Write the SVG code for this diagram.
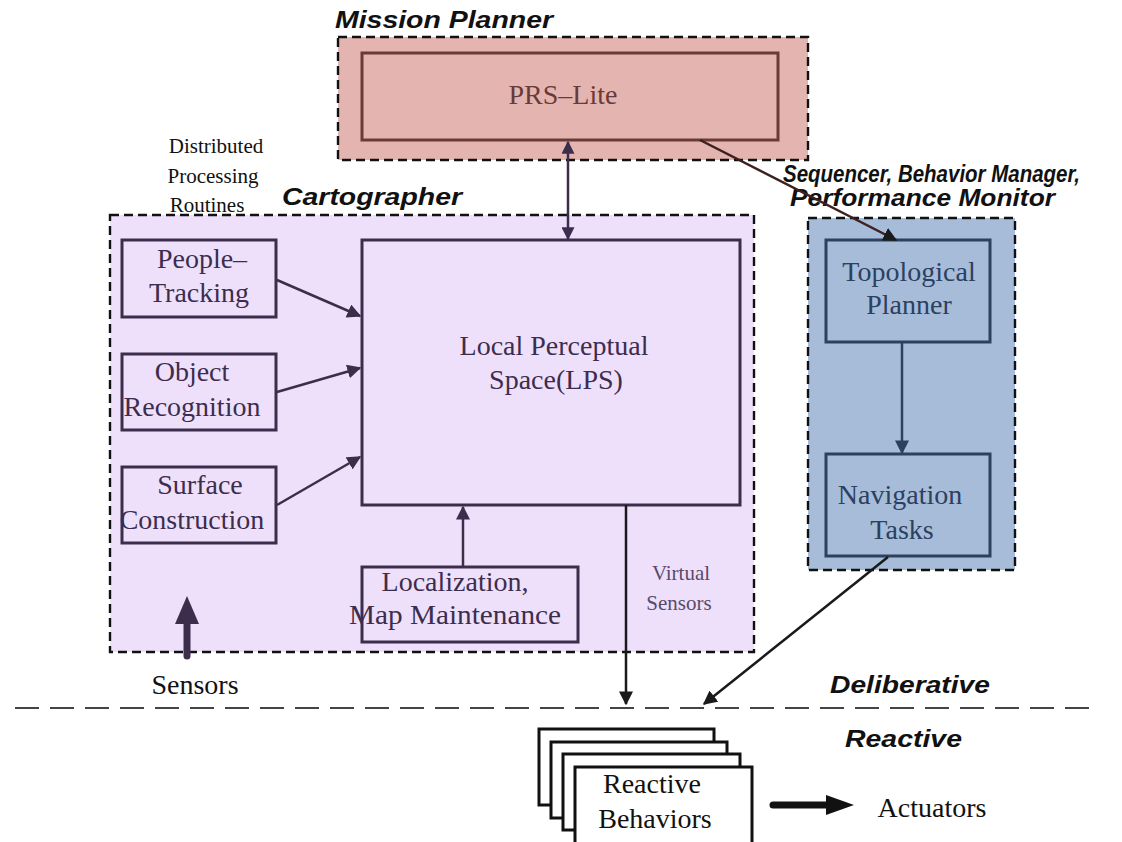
<svg xmlns="http://www.w3.org/2000/svg" width="1122" height="842" viewBox="0 0 1122 842">
  <style>
    .title { font-family: "Liberation Sans", Arial, sans-serif; font-weight: bold; font-style: italic; font-size: 23px; fill: #111; }
    .lbl { font-family: "Liberation Serif", "Times New Roman", serif; font-size: 28px; text-anchor: middle; }
    .small { font-family: "Liberation Serif", "Times New Roman", serif; font-size: 21px; text-anchor: middle; }
    .group { stroke: #111; stroke-width: 2.4; stroke-dasharray: 9 5; }
    .lav { fill: #eee0fb; }
    .pink { fill: #e4b5b0; }
    .blue { fill: #a7bcd8; }
    .boxL { fill: none; stroke: #3d2d4d; stroke-width: 3; }
    .boxP { fill: none; stroke: #6a3a38; stroke-width: 3; }
    .boxB { fill: none; stroke: #2c4060; stroke-width: 3; }
    .tL { fill: #3d2d4d; }
    .tP { fill: #6a3a38; }
    .tB { fill: #2c4060; }
    .tK { fill: #111; }
    .conn { fill: none; stroke-width: 2.5; }
  </style>
  <defs>
    <marker id="headLg" viewBox="0 0 10 10" refX="9" refY="5" markerWidth="14" markerHeight="14" markerUnits="userSpaceOnUse" orient="auto">
      <path d="M0,0 L10,5 L0,10 z" fill="#3d2d4d"/>
    </marker>
    <marker id="headK" viewBox="0 0 10 10" refX="9" refY="5" markerWidth="14" markerHeight="14" markerUnits="userSpaceOnUse" orient="auto">
      <path d="M0,0 L10,5 L0,10 z" fill="#1a1a1a"/>
    </marker>
    <marker id="headB" viewBox="0 0 10 10" refX="9" refY="5" markerWidth="14" markerHeight="14" markerUnits="userSpaceOnUse" orient="auto">
      <path d="M0,0 L10,5 L0,10 z" fill="#2c4060"/>
    </marker>
    <marker id="headKs" viewBox="0 0 10 10" refX="9" refY="5" markerWidth="13" markerHeight="13" markerUnits="userSpaceOnUse" orient="auto-start-reverse">
      <path d="M0,0 L10,5 L0,10 z" fill="#3d2d4d"/>
    </marker>
  </defs>

  <rect width="1122" height="842" fill="#ffffff"/>

  <!-- Mission planner layer -->
  <g id="mission-planner">
    <rect class="pink group" x="338" y="37" width="470" height="123"/>
    <text class="title" x="335" y="28" textLength="218" lengthAdjust="spacingAndGlyphs">Mission Planner</text>
  </g>
  <g id="prs-lite">
    <rect class="boxP" x="362" y="53" width="416" height="87"/>
    <text class="lbl tP" x="563" y="104">PRS–Lite</text>
  </g>

  <!-- Cartographer layer -->
  <g id="cartographer">
    <rect class="lav group" x="110" y="215" width="644" height="437"/>
    <text class="title" x="282" y="205" textLength="180" lengthAdjust="spacingAndGlyphs">Cartographer</text>
  </g>
  <g id="distributed-label">
    <text class="small tK" font-size="22" x="216" y="153">Distributed</text>
    <text class="small tK" font-size="22" x="213" y="183">Processing</text>
    <text class="small tK" font-size="22" x="207" y="212">Routines</text>
  </g>
  <g id="people-tracking">
    <rect class="boxL" x="122" y="240" width="154" height="77"/>
    <text class="lbl tL" x="202" y="268">People–</text>
    <text class="lbl tL" x="199" y="302">Tracking</text>
  </g>
  <g id="object-recognition">
    <rect class="boxL" x="122" y="354" width="154" height="76"/>
    <text class="lbl tL" x="192" y="381">Object</text>
    <text class="lbl tL" x="192" y="416">Recognition</text>
  </g>
  <g id="surface-construction">
    <rect class="boxL" x="122" y="467" width="154" height="76"/>
    <text class="lbl tL" x="200" y="494">Surface</text>
    <text class="lbl tL" x="192" y="529">Construction</text>
  </g>
  <g id="lps">
    <rect class="boxL" x="362" y="240" width="378" height="265"/>
    <text class="lbl tL" font-size="29" x="554" y="355">Local Perceptual</text>
    <text class="lbl tL" font-size="29" x="556" y="389">Space(LPS)</text>
  </g>
  <g id="localization">
    <rect class="boxL" x="362" y="567" width="216" height="75"/>
    <text class="lbl tL" font-size="29" x="455" y="591">Localization,</text>
    <text class="lbl tL" font-size="29" x="455" y="624" textLength="212" lengthAdjust="spacingAndGlyphs">Map Maintenance</text>
  </g>
  <g id="virtual-sensors">
    <text class="small" fill="#5a4a6a" x="681" y="580">Virtual</text>
    <text class="small" fill="#5a4a6a" x="679" y="610">Sensors</text>
  </g>

  <!-- Sequencer layer -->
  <g id="sequencer">
    <rect class="blue group" x="808" y="218" width="207" height="352"/>
    <text class="title" font-size="25" x="783" y="182" textLength="297" lengthAdjust="spacingAndGlyphs">Sequencer, Behavior Manager,</text>
    <text class="title" font-size="25" x="790" y="206" textLength="265" lengthAdjust="spacingAndGlyphs">Performance Monitor</text>
  </g>
  <g id="topological-planner">
    <rect class="boxB" x="826" y="240" width="164" height="102"/>
    <text class="lbl tB" x="909" y="281">Topological</text>
    <text class="lbl tB" x="909" y="314">Planner</text>
  </g>
  <g id="navigation-tasks">
    <rect class="boxB" x="826" y="454" width="164" height="102"/>
    <text class="lbl tB" x="900" y="504">Navigation</text>
    <text class="lbl tB" x="902" y="539">Tasks</text>
  </g>

  <!-- Layer boundary -->
  <g id="boundary">
    <line x1="15" y1="708" x2="1095" y2="708" stroke="#444" stroke-width="2" stroke-dasharray="24 11"/>
    <text class="title" x="830" y="693" textLength="160" lengthAdjust="spacingAndGlyphs">Deliberative</text>
    <text class="title" x="845" y="747" textLength="117" lengthAdjust="spacingAndGlyphs">Reactive</text>
  </g>

  <!-- Reactive behaviours stack -->
  <g id="reactive-behaviors" fill="#ffffff" stroke="#111" stroke-width="3">
    <rect x="539" y="729" width="175" height="76"/>
    <rect x="551" y="742" width="176" height="76"/>
    <rect x="563" y="754" width="177" height="76"/>
    <rect x="575" y="767" width="177" height="80"/>
    <text class="lbl tK" stroke="none" x="652" y="793">Reactive</text>
    <text class="lbl tK" stroke="none" x="655" y="828">Behaviors</text>
  </g>
  <g id="actuators">
    <text class="lbl tK" x="932" y="817">Actuators</text>
  </g>
  <g id="sensors">
    <text class="lbl tK" x="195" y="694">Sensors</text>
  </g>

  <!-- Connectors -->
  <g id="connectors">
    <line class="conn" stroke="#3d2d4d" x1="277" y1="280" x2="360" y2="316" marker-end="url(#headLg)"/>
    <line class="conn" stroke="#3d2d4d" x1="277" y1="392" x2="360" y2="368" marker-end="url(#headLg)"/>
    <line class="conn" stroke="#3d2d4d" x1="277" y1="505" x2="360" y2="457" marker-end="url(#headLg)"/>
    <line class="conn" stroke="#3d2d4d" x1="463" y1="567" x2="463" y2="507" marker-end="url(#headLg)"/>
    <line class="conn" stroke="#3d2d4d" stroke-width="2" x1="568" y1="142" x2="568" y2="239" marker-start="url(#headKs)" marker-end="url(#headKs)"/>
    <line class="conn" stroke="#2c4060" stroke-width="2" x1="902" y1="342" x2="902" y2="453" marker-end="url(#headB)"/>
    <line class="conn" stroke="#3d2020" x1="700" y1="140" x2="896" y2="240" marker-end="url(#headK)"/>
    <line class="conn" stroke="#1a1a1a" x1="626" y1="505" x2="626" y2="704" marker-end="url(#headK)"/>
    <line class="conn" stroke="#1a1a1a" x1="888" y1="557" x2="704" y2="704" marker-end="url(#headK)"/>
    <!-- thick sensor input arrow -->
    <line x1="187" y1="656" x2="187" y2="620" stroke="#3d2d4d" stroke-width="7" stroke-linecap="round"/>
    <path d="M187,596 L199,624 L175,624 z" fill="#3d2d4d"/>
    <!-- thick actuator output arrow -->
    <line x1="773" y1="805" x2="828" y2="805" stroke="#111" stroke-width="7" stroke-linecap="round"/>
    <path d="M854,805 L826,795 L826,815 z" fill="#111"/>
  </g>
</svg>
